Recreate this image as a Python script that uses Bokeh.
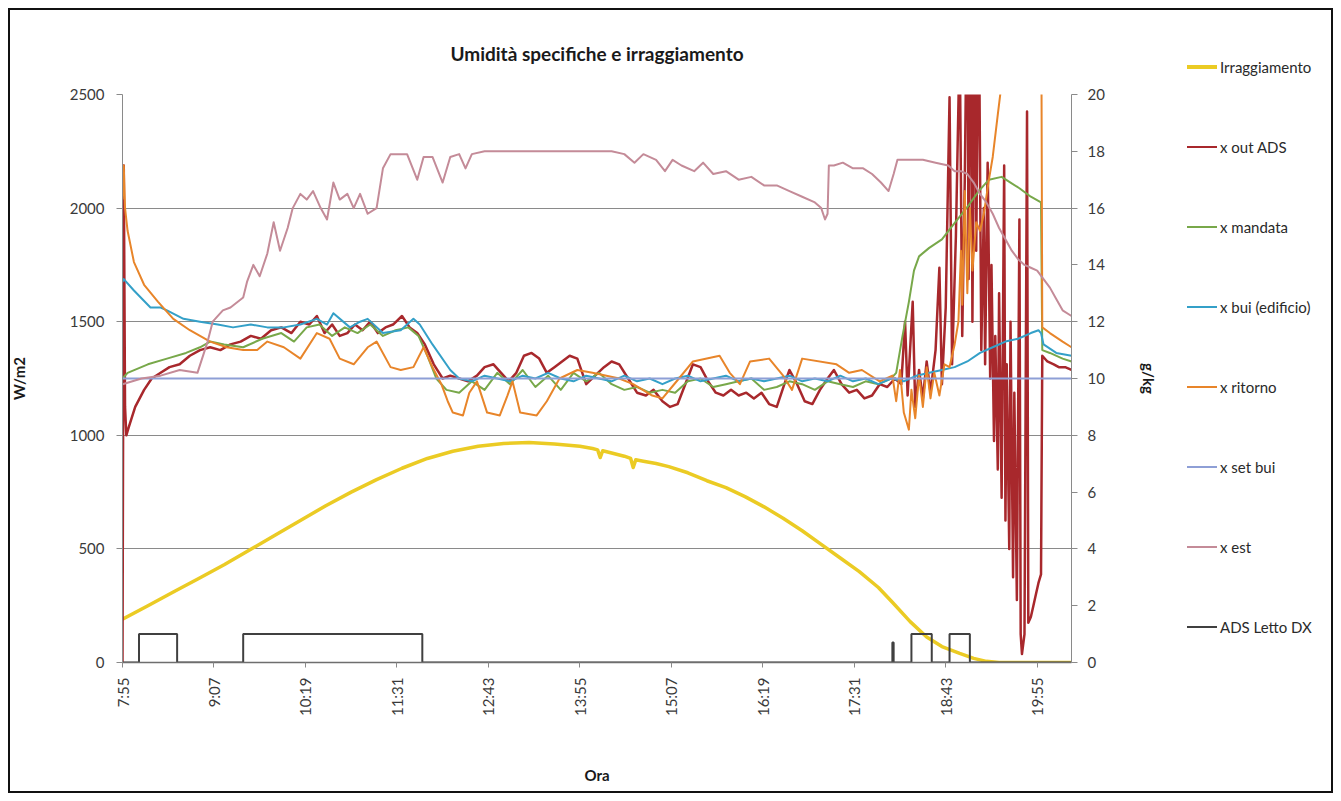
import math
from bokeh.plotting import figure
from bokeh.layouts import row
from bokeh.models import Range1d, LinearAxis, FixedTicker, Div
from bokeh.embed import file_html
from bokeh.resources import INLINE

# ---------------------------------------------------------------- data
# irradiance on the left axis (W/m2)
irr_t = ["7:55", "8:15", "8:35", "8:55", "9:15", "9:35", "9:55", "10:15", "10:35", "10:55",
         "11:15", "11:35", "11:55", "12:15", "12:35", "12:55", "13:15", "13:35", "13:55", "14:05",
         "14:09", "14:11", "14:13", "14:20", "14:30", "14:35", "14:37", "14:39", "14:45", "14:55",
         "15:05", "15:20", "15:35", "15:50", "16:05", "16:20", "16:35", "16:50", "17:05", "17:20",
         "17:35", "17:50", "18:01", "18:15", "18:28", "18:40", "18:54", "19:05", "19:15", "19:25",
         "20:22"]
irr_v = [190, 250, 310, 370, 430, 495, 560, 625, 690, 750,
         805, 855, 898, 930, 952, 964, 968, 962, 952, 942,
         936, 902, 932, 922, 908, 898, 858, 892, 886, 876,
         862, 835, 800, 770, 730, 685, 635, 580, 520, 460,
         400, 330, 265, 180, 112, 70, 40, 18, 5, 0,
         0]

# specific humidity series on the right axis (g/kg)
ads_out_t = ["7:55", "7:56", "7:57", "7:58", "8:00", "8:05", "8:12", "8:18", "8:25", "8:32",
             "8:40", "8:48", "8:56", "9:04", "9:12", "9:20", "9:28", "9:36", "9:44", "9:52",
             "10:00", "10:08", "10:15", "10:22", "10:28", "10:34", "10:40", "10:46", "10:52", "10:58",
             "11:04", "11:10", "11:16", "11:22", "11:28", "11:35", "11:41", "11:47", "11:53", "12:00",
             "12:07", "12:13", "12:20", "12:27", "12:34", "12:40", "12:47", "12:53", "12:59", "13:05",
             "13:11", "13:17", "13:23", "13:29", "13:35", "13:41", "13:47", "13:53", "14:00", "14:07",
             "14:14", "14:20", "14:26", "14:33", "14:40", "14:47", "14:53", "15:00", "15:06", "15:12",
             "15:18", "15:24", "15:30", "15:36", "15:42", "15:48", "15:54", "16:00", "16:06", "16:12",
             "16:18", "16:24", "16:30", "16:36", "16:40", "16:46", "16:52", "16:58", "17:04", "17:10",
             "17:15", "17:21", "17:27", "17:33", "17:39", "17:45", "17:51", "17:57", "18:03", "18:08",
             "18:11", "18:13", "18:17", "18:19", "18:22", "18:25", "18:28", "18:31", "18:35", "18:38",
             "18:40", "18:43", "18:46", "18:48", "18:51", "18:54", "18:56", "18:58", "19:00", "19:01",
             "19:03", "19:04", "19:06", "19:07", "19:09", "19:11", "19:13", "19:14", "19:16", "19:18",
             "19:19", "19:21", "19:22", "19:24", "19:25", "19:27", "19:29", "19:30", "19:31", "19:33",
             "19:34", "19:36", "19:37", "19:39", "19:41", "19:42", "19:43", "19:45", "19:47", "19:48",
             "19:50", "19:52", "19:54", "19:56", "19:58", "19:59", "20:03", "20:08", "20:12", "20:17",
             "20:22"]
ads_out_v = [0.0, 17.5, 9.0, 8.0, 8.3, 9.0, 9.6, 10.0, 10.2, 10.4,
             10.5, 10.8, 11.0, 11.1, 11.0, 11.2, 11.3, 11.5, 11.4, 11.7,
             11.8, 11.6, 12.0, 11.9, 12.2, 11.6, 11.9, 11.5, 11.6, 11.9,
             11.7, 12.0, 11.6, 11.8, 11.9, 12.2, 11.8, 11.6, 11.2, 10.5,
             10.0, 10.1, 10.0, 9.9, 10.1, 10.4, 10.5, 10.2, 9.9, 10.2,
             10.8, 10.9, 10.7, 10.2, 10.4, 10.6, 10.8, 10.7, 9.8, 10.1,
             10.4, 10.6, 10.5, 10.0, 9.5, 9.4, 9.6, 9.2, 9.0, 9.1,
             9.8, 10.5, 10.4, 9.9, 9.5, 9.4, 9.6, 9.4, 9.5, 9.3,
             9.5, 9.1, 9.0, 9.8, 10.3, 9.8, 9.2, 9.1, 9.6, 10.0,
             10.3, 9.8, 9.5, 9.6, 9.3, 9.4, 9.8, 9.7, 10.0, 9.8,
             12.0, 9.4, 12.7, 9.0, 10.3, 9.3, 10.6, 9.5, 11.0, 13.9,
             9.8, 12.5, 19.9, 10.5, 15.0, 22.0, 11.5, 17.0, 25.0, 13.5,
             26.0, 12.0, 25.0, 14.5, 24.0, 11.0, 16.0, 10.5, 17.6, 10.0,
             14.0, 7.8, 11.5, 6.8, 13.0, 5.8, 17.5, 5.0, 10.5, 4.0,
             12.0, 3.0, 9.5, 2.2, 15.6, 1.0, 0.3, 1.0, 19.4, 1.4,
             1.6, 2.0, 2.4, 2.8, 3.1, 10.8, 10.6, 10.5, 10.4, 10.4,
             10.3]

supply_t = ["7:55", "7:59", "8:15", "8:30", "8:45", "8:56", "9:04", "9:15", "9:30", "9:45",
            "10:00", "10:10", "10:20", "10:30", "10:40", "10:50", "11:00", "11:10", "11:20", "11:30",
            "11:40", "11:48", "11:55", "12:02", "12:10", "12:20", "12:30", "12:40", "12:50", "13:00",
            "13:10", "13:20", "13:30", "13:40", "13:50", "14:00", "14:10", "14:20", "14:30", "14:40",
            "14:50", "15:00", "15:10", "15:20", "15:30", "15:40", "15:50", "16:00", "16:10", "16:20",
            "16:30", "16:40", "16:50", "17:00", "17:10", "17:20", "17:30", "17:40", "17:50", "18:00",
            "18:04", "18:09", "18:14", "18:18", "18:22", "18:30", "18:40", "18:47", "18:54", "19:01",
            "19:09", "19:17", "19:27", "19:34", "19:41", "19:50", "19:58", "19:59", "20:05", "20:15",
            "20:22"]
supply_v = [10.0, 10.2, 10.5, 10.7, 10.9, 11.1, 11.3, 11.2, 11.1, 11.4,
            11.6, 11.3, 11.8, 11.9, 11.5, 11.8, 11.6, 11.9, 11.5, 11.7,
            11.8, 11.5, 10.8, 10.0, 9.6, 9.5, 9.9, 9.6, 10.2, 9.8,
            10.3, 9.7, 10.1, 9.6, 10.2, 9.9, 10.2, 9.8, 9.6, 9.7,
            9.5, 9.6, 9.5, 9.9, 10.0, 9.7, 9.8, 9.9, 10.0, 9.6,
            9.7, 9.9, 9.8, 9.6, 9.9, 9.8, 9.7, 9.9, 9.8, 10.0,
            10.2, 11.5, 12.7, 13.8, 14.3, 14.6, 14.9, 15.3, 15.7, 16.1,
            16.6, 17.0, 17.1, 16.9, 16.7, 16.4, 16.2, 11.0, 10.9, 10.7,
            10.6]

building_t = ["7:55", "7:56", "8:04", "8:17", "8:25", "8:30", "8:43", "8:56", "9:10", "9:22",
              "9:36", "9:49", "10:02", "10:15", "10:28", "10:36", "10:41", "10:54", "11:02", "11:08",
              "11:20", "11:34", "11:44", "11:49", "11:59", "12:13", "12:20", "12:30", "12:40", "12:50",
              "13:00", "13:10", "13:20", "13:30", "13:40", "13:50", "14:00", "14:10", "14:20", "14:30",
              "14:40", "14:50", "15:00", "15:10", "15:20", "15:30", "15:40", "15:50", "16:00", "16:10",
              "16:20", "16:30", "16:40", "16:50", "17:00", "17:10", "17:20", "17:30", "17:40", "17:50",
              "18:00", "18:10", "18:20", "18:30", "18:40", "18:50", "19:00", "19:10", "19:20", "19:30",
              "19:40", "19:50", "19:56", "19:58", "20:00", "20:10", "20:22"]
building_v = [13.4, 13.5, 13.1, 12.5, 12.5, 12.4, 12.1, 12.0, 11.9, 11.8,
              11.9, 11.8, 11.8, 11.9, 12.1, 11.9, 12.3, 11.8, 12.0, 12.1,
              11.6, 11.7, 12.1, 11.9, 11.2, 10.3, 10.0, 9.9, 10.1, 10.0,
              9.9, 10.1, 10.0, 10.2, 10.0, 9.9, 10.1, 10.0, 9.9, 10.1,
              9.9, 10.0, 9.8, 10.0, 10.1, 9.9, 10.0, 10.1, 9.9, 10.0,
              9.9, 10.0, 10.1, 9.9, 10.0, 9.9, 10.1, 9.9, 10.0, 9.8,
              10.0, 9.9, 10.1, 10.2, 10.3, 10.4, 10.6, 10.9, 11.1, 11.3,
              11.4, 11.6, 11.7, 11.6, 11.2, 10.9, 10.8]

return_t = ["7:55", "7:56", "7:57", "7:59", "8:04", "8:12", "8:23", "8:35", "8:48", "9:04",
            "9:17", "9:30", "9:41", "9:49", "10:02", "10:15", "10:28", "10:38", "10:46", "10:57",
            "11:08", "11:15", "11:26", "11:34", "11:44", "11:52", "11:59", "12:06", "12:11", "12:15",
            "12:23", "12:28", "12:34", "12:42", "12:52", "12:58", "13:02", "13:08", "13:21", "13:29",
            "13:39", "13:53", "14:05", "14:26", "14:37", "14:52", "15:00", "15:13", "15:24", "15:45",
            "15:53", "16:01", "16:09", "16:24", "16:35", "16:42", "16:50", "17:17", "17:27", "17:37",
            "17:51", "18:01", "18:04", "18:07", "18:10", "18:14", "18:16", "18:19", "18:22", "18:25",
            "18:28", "18:31", "18:34", "18:38", "18:42", "18:46", "18:50", "18:53", "18:55", "18:56",
            "18:58", "19:00", "19:02", "19:04", "19:07", "19:10", "19:13", "19:17", "19:20", "19:24",
            "19:27", "19:32", "19:40", "19:50", "19:58", "19:59", "20:05", "20:15", "20:22"]
return_v = [16.3, 17.5, 16.0, 15.2, 14.1, 13.3, 12.7, 12.1, 11.7, 11.3,
            11.1, 11.0, 11.0, 11.3, 11.1, 10.7, 11.6, 11.4, 10.7, 10.5,
            11.1, 11.3, 10.4, 10.3, 10.4, 11.1, 10.4, 9.8, 9.2, 8.8,
            8.7, 9.5, 9.9, 8.8, 8.7, 9.4, 9.9, 8.8, 8.7, 9.2,
            10.0, 10.3, 10.2, 10.0, 9.8, 9.4, 9.3, 10.0, 10.6, 10.8,
            10.2, 9.8, 10.6, 10.7, 10.1, 9.6, 10.7, 10.5, 10.2, 10.3,
            9.9, 10.1, 9.2, 10.3, 8.8, 8.2, 9.6, 8.6, 10.1, 9.0,
            10.4, 9.3, 10.2, 9.4, 10.5, 10.4, 11.2, 12.0, 14.5, 12.6,
            16.6, 13.0, 16.0, 13.8, 15.5, 15.2, 15.8, 17.0, 17.8, 19.3,
            20.4, 22.0, 24.0, 25.0, 26.0, 11.8, 11.6, 11.3, 11.1]

setpoint_t = ["7:55", "20:22"]
setpoint_v = [10.0, 10.0]

outdoor_t = ["7:55", "8:10", "8:25", "8:40", "8:54", "9:02", "9:06", "9:14", "9:20", "9:30",
             "9:33", "9:38", "9:43", "9:49", "9:54", "9:59", "10:05", "10:09", "10:15", "10:20",
             "10:25", "10:31", "10:36", "10:41", "10:46", "10:52", "10:57", "11:02", "11:08", "11:15",
             "11:20", "11:26", "11:39", "11:47", "11:52", "11:59", "12:07", "12:13", "12:20", "12:25",
             "12:30", "12:40", "13:00", "13:30", "14:00", "14:20", "14:30", "14:38", "14:45", "14:55",
             "15:02", "15:08", "15:15", "15:25", "15:32", "15:40", "15:50", "16:00", "16:10", "16:20",
             "16:30", "16:40", "16:50", "17:00", "17:05", "17:08", "17:10", "17:11", "17:15", "17:22",
             "17:30", "17:38", "17:45", "17:52", "17:58", "18:02", "18:05", "18:15", "18:25", "18:35",
             "18:45", "18:50", "18:55", "19:00", "19:05", "19:10", "19:15", "19:20", "19:25", "19:30",
             "19:35", "19:40", "19:45", "19:50", "19:55", "20:00", "20:05", "20:10", "20:15", "20:22"]
outdoor_v = [9.8, 10.0, 10.1, 10.3, 10.2, 11.3, 12.0, 12.4, 12.5, 12.85,
             13.4, 14.0, 13.6, 14.4, 15.5, 14.5, 15.3, 16.0, 16.5, 16.3,
             16.6, 16.0, 15.6, 16.9, 16.3, 16.5, 16.0, 16.5, 15.8, 16.0,
             17.4, 17.9, 17.9, 17.0, 17.8, 17.8, 16.9, 17.8, 17.9, 17.4,
             17.9, 18.0, 18.0, 18.0, 18.0, 18.0, 17.9, 17.6, 17.9, 17.7,
             17.3, 17.7, 17.5, 17.3, 17.6, 17.2, 17.3, 17.0, 17.1, 16.8,
             16.8, 16.6, 16.4, 16.2, 16.0, 15.6, 15.8, 17.5, 17.5, 17.6,
             17.4, 17.4, 17.2, 16.9, 16.6, 17.2, 17.7, 17.7, 17.7, 17.6,
             17.5, 17.3, 17.3, 17.2, 16.9, 16.5, 16.2, 15.8, 15.3, 14.9,
             14.5, 14.2, 14.0, 13.9, 13.8, 13.5, 13.2, 12.8, 12.4, 12.2]

# ADS bed state (on/off), drawn on the right axis
bed_t = ["7:55", "8:08", "8:38", "9:30", "11:51", "18:01", "18:02", "18:16", "18:32", "18:46",
         "19:02", "20:22"]
bed_v = [0, 1, 0, 1, 0, 0.7, 0, 1, 0, 1,
         0, 0]

tick_labels = ["7:55", "9:07", "10:19", "11:31", "12:43", "13:55", "15:07", "16:19", "17:31",
               "18:43", "19:55"]
left_ticks = [0, 500, 1000, 1500, 2000, 2500]
right_ticks = [0, 2, 4, 6, 8, 10, 12, 14, 16, 18, 20]

series_names = ["Irraggiamento", "x out ADS", "x mandata", "x bui (edificio)", "x ritorno",
                "x set bui", "x est", "ADS Letto DX"]


def to_min(labels):
    out = []
    for s in labels:
        h, m = s.split(":")
        out.append(int(h) * 60 + int(m))
    return out


# ---------------------------------------------------------------- styles
FONT = "Lato"
H = 801
FL, FR, FT, FB = 122, 1072, 94, 662   # plot frame edges in pixels
CHART_W = 1160                        # chart part; the key column fills the rest
KEY_W = 1341 - CHART_W

STYLE = {
    "Irraggiamento":    dict(line_color="#EBCB24", line_width=3.5),
    "x out ADS":        dict(line_color="#A8282C", line_width=2.5),
    "x mandata":        dict(line_color="#78A84A", line_width=2),
    "x bui (edificio)": dict(line_color="#34A0C8", line_width=2),
    "x ritorno":        dict(line_color="#E8852A", line_width=2),
    "x set bui":        dict(line_color="#8E9FD6", line_width=2),
    "x est":            dict(line_color="#C48B98", line_width=2),
    "ADS Letto DX":     dict(line_color="#404040", line_width=2),
}

AXIS_GRAY = "#8a8a8a"
LABEL_COLOR = "#3a3a3a"

# ---------------------------------------------------------------- chart
p = figure(width=CHART_W, height=H, output_backend="svg", toolbar_location=None,
           x_range=Range1d(to_min(["7:55"])[0], to_min(["20:22"])[0]),
           y_range=Range1d(0, 2500),
           min_border_left=FL, min_border_right=CHART_W - FR,
           min_border_top=FT, min_border_bottom=H - FB,
           title="Umidità specifiche e irraggiamento")
p.background_fill_color = "white"
p.border_fill_alpha = 0.0
p.outline_line_color = None
p.extra_y_ranges = {"gkg": Range1d(0, 20)}

p.title.align = "center"
p.title.text_font = FONT
p.title.text_font_size = "19px"
p.title.text_font_style = "bold"
p.title.text_color = "#1a1a1a"
p.title.standoff = 60
p.title.offset = -6

# bottom axis
xa = p.xaxis[0]
xa.ticker = FixedTicker(ticks=to_min(tick_labels))
xa.major_label_overrides = {m: s for m, s in zip(to_min(tick_labels), tick_labels)}
xa.major_label_orientation = math.pi / 2
xa.axis_line_color = "#6e6e6e"
xa.axis_line_width = 1.5
xa.major_tick_line_color = AXIS_GRAY
xa.major_tick_out = 5
xa.major_tick_in = 0
xa.minor_tick_line_color = None
xa.major_label_standoff = 10
xa.major_label_text_font = FONT
xa.major_label_text_font_size = "15px"
xa.major_label_text_color = LABEL_COLOR
xa.axis_label = "Ora"
xa.axis_label_standoff = 47
xa.axis_label_text_font = FONT
xa.axis_label_text_font_size = "15px"
xa.axis_label_text_font_style = "bold"
xa.axis_label_text_color = "#1a1a1a"

# left axis
ya = p.yaxis[0]
ya.ticker = FixedTicker(ticks=left_ticks)
ya.axis_line_color = AXIS_GRAY
ya.major_tick_line_color = AXIS_GRAY
ya.major_tick_out = 6
ya.major_tick_in = 0
ya.minor_tick_line_color = None
ya.major_label_standoff = 12
ya.major_label_text_font = FONT
ya.major_label_text_font_size = "15px"
ya.major_label_text_color = LABEL_COLOR
ya.axis_label = "W/m2"
ya.axis_label_standoff = 39
ya.axis_label_text_font = FONT
ya.axis_label_text_font_size = "15px"
ya.axis_label_text_font_style = "bold"
ya.axis_label_text_color = "#1a1a1a"

# right axis
ra = LinearAxis(y_range_name="gkg", ticker=FixedTicker(ticks=right_ticks))
ra.axis_line_color = AXIS_GRAY
ra.major_tick_line_color = AXIS_GRAY
ra.major_tick_out = 6
ra.major_tick_in = 0
ra.minor_tick_line_color = None
ra.major_label_standoff = 10
ra.major_label_text_font = FONT
ra.major_label_text_font_size = "15px"
ra.major_label_text_color = LABEL_COLOR
ra.axis_label = "g/kg"
ra.axis_label_standoff = 32
ra.axis_label_text_font = FONT
ra.axis_label_text_font_size = "15px"
ra.axis_label_text_font_style = "bold"
ra.axis_label_text_color = "#1a1a1a"
p.add_layout(ra, "right")

p.xgrid.grid_line_color = None
p.ygrid.ticker = FixedTicker(ticks=[500, 1000, 1500, 2000, 2500])
p.ygrid.grid_line_color = AXIS_GRAY
p.ygrid.grid_line_width = 1.2

# ---------------------------------------------------------------- series
p.line(to_min(irr_t), irr_v, line_join="round", **STYLE["Irraggiamento"])
p.line(to_min(ads_out_t), ads_out_v, y_range_name="gkg", line_join="round", **STYLE["x out ADS"])
p.line(to_min(supply_t), supply_v, y_range_name="gkg", line_join="round", **STYLE["x mandata"])
p.line(to_min(building_t), building_v, y_range_name="gkg", line_join="round",
       **STYLE["x bui (edificio)"])
p.line(to_min(return_t), return_v, y_range_name="gkg", line_join="round", **STYLE["x ritorno"])
p.line(to_min(setpoint_t), setpoint_v, y_range_name="gkg", **STYLE["x set bui"])
p.line(to_min(outdoor_t), outdoor_v, y_range_name="gkg", line_join="round", **STYLE["x est"])
p.step(to_min(bed_t), bed_v, y_range_name="gkg", mode="after", **STYLE["ADS Letto DX"])

# ---------------------------------------------------------------- key column
KEY_TOP, KEY_STEP = 67, 80          # centre of the first entry, distance between entries
KEY_X = 1187 - CHART_W              # left end of the swatches inside the column
entries = []
for i, name in enumerate(series_names):
    st = STYLE[name]
    cy = KEY_TOP + i * KEY_STEP
    entries.append(
        f'<div style="position:absolute;left:{KEY_X}px;top:{cy - 10}px;height:20px;'
        f'display:flex;align-items:center;white-space:nowrap;">'
        f'<span style="display:inline-block;width:30px;height:{st["line_width"]}px;'
        f'background:{st["line_color"]};"></span>'
        f'<span style="margin-left:3px;font-family:{FONT};font-size:15px;'
        f'color:#2a2a2a;line-height:20px;">{name}</span></div>'
    )
key_html = (f'<div style="position:relative;width:{KEY_W}px;height:{H}px;">'
            + "".join(entries) + "</div>")
key = Div(text=key_html, width=KEY_W, height=H, margin=0,
          styles={"overflow": "visible"})

layout = row(p, key, spacing=0)
# thin dark frame around the whole chart area
layout.styles = {"background-color": "white",
                 "box-shadow": "inset 0 0 0 8px white, inset 0 0 0 10px #111111"}

open("out.html", "w").write(file_html(layout, INLINE))
